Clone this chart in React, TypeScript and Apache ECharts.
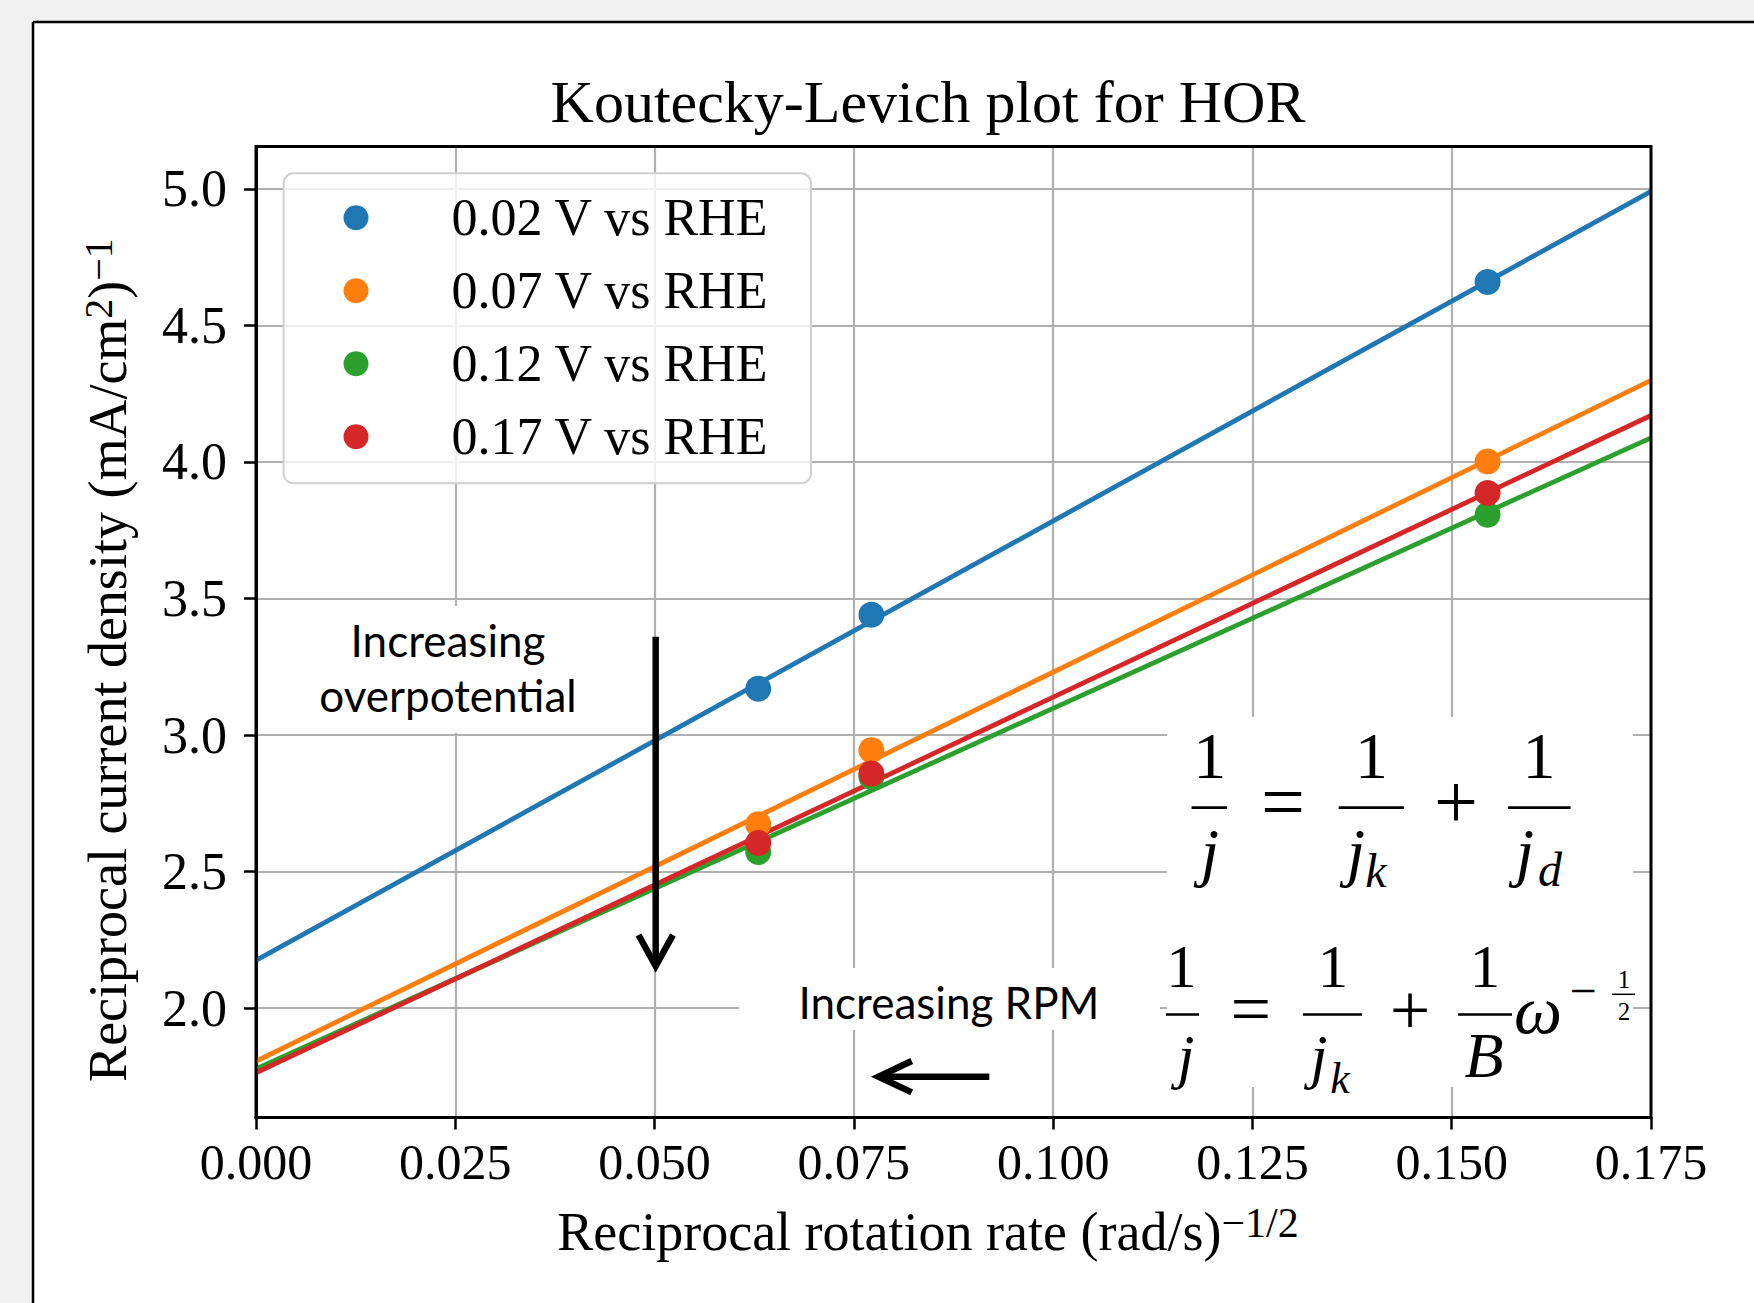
import React, { useEffect, useRef } from "react";
import * as echarts from "echarts";

// ---------- data ----------
const seriesNames = ["0.02 V vs RHE", "0.07 V vs RHE", "0.12 V vs RHE", "0.17 V vs RHE"];
const seriesColors = ["#1f77b4", "#ff7f0e", "#2ca02c", "#d62728"];
// reciprocal rotation rate (rad/s)^-1/2 for 2400, 1600, 400 rpm
const rotationX = [0.063, 0.0772, 0.1545];
const points002 = [3.17, 3.441, 4.659];
const points007 = [2.674, 2.945, 4.002];
const points012 = [2.572, 2.847, 3.807];
const points017 = [2.605, 2.859, 3.886];
// fitted Koutecky-Levich lines, read at both ends of the axis
const fitX = [0, 0.175];
const fit002 = [2.175, 4.991];
const fit007 = [1.806, 4.299];
const fit012 = [1.778, 4.088];
const fit017 = [1.764, 4.17];
const xTicks = [0, 0.025, 0.05, 0.075, 0.1, 0.125, 0.15, 0.175];
const yTicks = [2.0, 2.5, 3.0, 3.5, 4.0, 4.5, 5.0];

const pointSets = [points002, points007, points012, points017];
const fitSets = [fit002, fit007, fit012, fit017];

const SERIF = "'Liberation Serif', 'Times New Roman', serif";
const SANS = "Lato, 'Open Sans', sans-serif";

function txt(text: string, x: number, y: number, fontSize: number, opts: any = {}) {
  return {
    type: "text",
    x,
    y,
    z: 20,
    style: {
      text,
      fontSize,
      fontFamily: opts.family || SERIF,
      fontStyle: opts.italic ? "italic" : "normal",
      fill: "#000",
      align: "center",
      verticalAlign: "middle",
      textAlign: "center",
      textVerticalAlign: "middle",
    },
  };
}

function bar(x1: number, x2: number, y: number, w = 2.7) {
  return {
    type: "line",
    z: 20,
    shape: { x1, y1: y, x2, y2: y },
    style: { stroke: "#000", lineWidth: w },
  };
}

function box(x: number, y: number, w: number, h: number) {
  return {
    type: "rect",
    z: 1,
    shape: { x, y, width: w, height: h },
    style: { fill: "#ffffff" },
  };
}

export default function App() {
  const ref = useRef<HTMLDivElement>(null);

  useEffect(() => {
    if (!ref.current) return;
    const chart = echarts.init(ref.current, undefined, { renderer: "svg" });

    const series: any[] = [];
    seriesNames.forEach((name, i) => {
      series.push({
        name: "fit " + name,
        type: "line",
        data: fitX.map((x, k) => [x, fitSets[i][k]]),
        showSymbol: false,
        symbol: "none",
        lineStyle: { color: seriesColors[i], width: 4.8 },
        itemStyle: { color: seriesColors[i] },
        z: 2,
        silent: true,
      });
    });
    seriesNames.forEach((name, i) => {
      series.push({
        name,
        type: "scatter",
        data: rotationX.map((x, k) => [x, pointSets[i][k]]),
        symbol: "circle",
        symbolSize: 26,
        itemStyle: { color: seriesColors[i], opacity: 1 },
        z: 3,
      });
    });

    const graphic: any[] = [
      // page background outside the figure frame
      { type: "rect", z: 30, shape: { x: 0, y: 0, width: 1754, height: 22 }, style: { fill: "#f2f2f2" } },
      { type: "rect", z: 30, shape: { x: 0, y: 0, width: 33, height: 1303 }, style: { fill: "#f2f2f2" } },
      { type: "line", z: 31, shape: { x1: 33, y1: 22, x2: 1754, y2: 22 }, style: { stroke: "#000", lineWidth: 2.5 } },
      { type: "line", z: 31, shape: { x1: 33, y1: 22, x2: 33, y2: 1303 }, style: { stroke: "#000", lineWidth: 2.5 } },
      // legend frame
      {
        type: "rect",
        z: 3,
        shape: { x: 283.6, y: 173.3, width: 527.4, height: 310, r: 10 },
        style: { fill: "rgba(255,255,255,0.8)", stroke: "#d0d0d0", lineWidth: 2 },
      },
      // white boxes of the pasted annotations
      box(300, 606, 340, 127),
      box(739, 968, 421, 62),
      box(1167, 717, 466, 370),
      // annotation texts
      txt("Increasing", 448, 640, 44, { family: SANS }),
      txt("overpotential", 448, 695, 44, { family: SANS }),
      txt("Increasing RPM", 949, 1002, 44, { family: SANS }),
      // down arrow
      { type: "line", z: 20, shape: { x1: 655.7, y1: 636.7, x2: 655.7, y2: 963 }, style: { stroke: "#000", lineWidth: 6.5 } },
      {
        type: "polyline",
        z: 20,
        shape: { points: [[638.5, 935], [655.7, 966], [672.9, 935]] },
        style: { stroke: "#000", lineWidth: 6.5, fill: "none", lineJoin: "miter" },
      },
      // left arrow
      { type: "line", z: 20, shape: { x1: 880, y1: 1076.7, x2: 989.3, y2: 1076.7 }, style: { stroke: "#000", lineWidth: 6.5 } },
      {
        type: "polyline",
        z: 20,
        shape: { points: [[911.7, 1061], [878.5, 1076.7], [911.7, 1092.4]] },
        style: { stroke: "#000", lineWidth: 6.5, fill: "none", lineJoin: "miter" },
      },
      // equation 1: 1/j = 1/j_k + 1/j_d
      txt("1", 1209.7, 755.7, 66),
      bar(1191.6, 1227, 807.7),
      txt("j", 1210, 851.7, 66, { italic: true }),
      txt("=", 1283, 801, 78),
      txt("1", 1371.5, 755.7, 66),
      bar(1338.7, 1404, 807.7),
      txt("j", 1356, 851.7, 66, { italic: true }),
      txt("k", 1376, 870.8, 48, { italic: true }),
      txt("+", 1456, 801, 78),
      txt("1", 1539, 755.7, 66),
      bar(1508, 1570.6, 807.7),
      txt("j", 1525, 851.7, 66, { italic: true }),
      txt("d", 1550, 869, 48, { italic: true }),
      // equation 2: 1/j = 1/j_k + (1/B) ω^(-1/2)
      txt("1", 1181.6, 966, 61),
      bar(1166, 1199, 1014.5),
      txt("j", 1186, 1056.4, 61, { italic: true }),
      txt("=", 1250.7, 1008.7, 72),
      txt("1", 1333, 966, 61),
      bar(1303, 1362, 1014.5),
      txt("j", 1319, 1056.4, 61, { italic: true }),
      txt("k", 1340, 1078, 44, { italic: true }),
      txt("+", 1410, 1010, 72),
      txt("1", 1485, 966, 61),
      bar(1458, 1512, 1014.5),
      txt("B", 1484, 1055, 64, { italic: true }),
      txt("ω", 1538, 1010.4, 68, { italic: true }),
      txt("−", 1583, 990, 48),
      txt("1", 1624, 979.6, 25),
      bar(1612, 1635, 994.3, 1.5),
      txt("2", 1624, 1011.6, 25),
    ];

    const isTick = (v: number, ticks: number[]) => ticks.some((t) => Math.abs(t - v) < 1e-9);

    chart.setOption({
      animation: false,
      backgroundColor: "#ffffff",
      title: {
        text: "Koutecky-Levich plot for HOR",
        left: 928,
        top: 72,
        textAlign: "center",
        padding: 0,
        textStyle: { fontFamily: SERIF, fontSize: 60, fontWeight: "normal", color: "#000" },
      },
      legend: {
        data: seriesNames,
        orient: "vertical",
        left: 343.5,
        top: 191.7,
        padding: 0,
        itemWidth: 25,
        itemHeight: 25,
        itemGap: 21,
        icon: "circle",
        z: 6,
        textStyle: {
          fontFamily: SERIF,
          fontSize: 52,
          lineHeight: 52,
          color: "#000",
          padding: [0, 0, 0, 78],
        },
      },
      grid: {
        left: 256,
        right: 103,
        top: 146.5,
        bottom: 185.5,
        show: true,
        borderColor: "#000",
        borderWidth: 3,
        backgroundColor: "transparent",
        z: 4,
      },
      xAxis: {
        type: "value",
        min: xTicks[0],
        max: xTicks[xTicks.length - 1],
        interval: 0.025,
        axisLine: { show: true, lineStyle: { color: "#000", width: 3 } },
        axisTick: { show: true, length: 12, lineStyle: { color: "#000", width: 2.5 } },
        axisLabel: {
          fontFamily: SERIF,
          fontSize: 50,
          color: "#000",
          margin: 19,
          formatter: (v: number) => (isTick(v, xTicks) ? v.toFixed(3) : ""),
        },
        splitLine: { show: true, lineStyle: { color: "#b0b0b0", width: 2.2 } },
        name: "{m|Reciprocal rotation rate (rad/s)}{s|−1/2}",
        nameLocation: "middle",
        nameGap: 84,
        nameTextStyle: {
          padding: [0, 51, 0, 0],
          rich: {
            m: { fontFamily: SERIF, fontSize: 54, lineHeight: 60, color: "#000" },
            s: { fontFamily: SERIF, fontSize: 42, lineHeight: 34, verticalAlign: "top", color: "#000" },
          },
        },
      },
      yAxis: {
        type: "value",
        min: 1.6,
        max: 5.155,
        splitNumber: 7,
        axisLine: { show: true, lineStyle: { color: "#000", width: 3 } },
        axisTick: { show: true, length: 12, customValues: yTicks, lineStyle: { color: "#000", width: 2.5 } },
        axisLabel: {
          fontFamily: SERIF,
          fontSize: 52,
          color: "#000",
          margin: 29,
          customValues: yTicks,
          formatter: (v: number) => (isTick(v, yTicks) ? v.toFixed(1) : ""),
        },
        splitLine: { show: true, lineStyle: { color: "#b0b0b0", width: 2.2 } },
        name: "{m|Reciprocal current density (mA/cm}{s|2}{m|)}{s|−1}",
        nameLocation: "middle",
        nameRotate: 90,
        nameGap: 118,
        nameTextStyle: {
          padding: [0, 56, 0, 0],
          rich: {
            m: { fontFamily: SERIF, fontSize: 54, lineHeight: 60, color: "#000" },
            s: { fontFamily: SERIF, fontSize: 40, lineHeight: 32, verticalAlign: "top", color: "#000" },
          },
        },
      },
      graphic,
      series,
    });

    return () => chart.dispose();
  }, []);

  return (
    <div
      ref={ref}
      style={{ position: "fixed", left: 0, top: 0, width: 1754, height: 1303 }}
    />
  );
}
